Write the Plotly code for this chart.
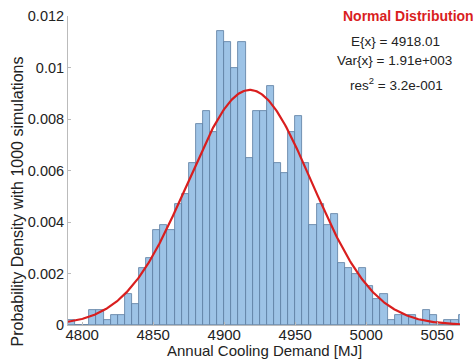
import numpy as np
import plotly.graph_objects as go

# Histogram bins (left edges, width 5 MJ) and probability densities
bin_start = 4790
bin_width = 5
density = [
    0.0002, 0.0, 0.0, 0.0006, 0.0006, 0.0002, 0.0004, 0.0004, 0.0012, 0.0008,
    0.0022, 0.0026, 0.0037, 0.0039, 0.0037, 0.0047, 0.0051, 0.0063, 0.0078, 0.0083,
    0.0075, 0.0114, 0.0110, 0.0100, 0.0110, 0.0065, 0.0083, 0.0083, 0.0093, 0.0063,
    0.0059, 0.0075, 0.0081, 0.0063, 0.0039, 0.0047, 0.0039, 0.0043, 0.0024, 0.0022,
    0.0020, 0.0022, 0.0015, 0.0010, 0.0012, 0.0002, 0.0004, 0.0004, 0.0004, 0.0002,
    0.0006, 0.0004, 0.0, 0.0002, 0.0002, 0.0004,
]
centers = [bin_start + bin_width * (i + 0.5) for i in range(len(density))]

# Fitted normal distribution parameters
mean_x = 4918.01
var_x = 1.91e3
x_range = [4790, 5066]

xs = np.linspace(x_range[0], x_range[1], 400)
sd = np.sqrt(var_x)
pdf = np.exp(-(xs - mean_x) ** 2 / (2 * var_x)) / (sd * np.sqrt(2 * np.pi))

x_ticks = [4800, 4850, 4900, 4950, 5000, 5050]
y_ticks = [0, 0.002, 0.004, 0.006, 0.008, 0.01, 0.012]
y_tick_labels = ["0", "0.002", "0.004", "0.006", "0.008", "0.01", "0.012"]

FONT = "Liberation Sans, Arial, sans-serif"
RED = "#D91E1E"

fig = go.Figure()
fig.add_trace(go.Bar(
    x=centers, y=density, width=bin_width,
    marker=dict(color="#9DC3E6", line=dict(color="#5A7CA0", width=0.8)),
    showlegend=False,
))
fig.add_trace(go.Scatter(
    x=xs, y=pdf, mode="lines",
    line=dict(color=RED, width=2.2),
    showlegend=False,
))

fig.update_layout(
    width=475, height=361,
    margin=dict(l=68, r=15, t=16, b=36),
    paper_bgcolor="white", plot_bgcolor="white",
    bargap=0,
    font=dict(family=FONT, size=14, color="#222222"),
    xaxis=dict(
        range=x_range, tickvals=x_ticks, ticktext=[str(v) for v in x_ticks],
        showgrid=False, zeroline=False, showline=True, linecolor="#BBBBBB",
        linewidth=1, ticks="inside", ticklen=3, tickcolor="#BBBBBB",
        tickfont=dict(size=15), ticklabelstandoff=-4, automargin=False,
    ),
    yaxis=dict(
        range=[0, 0.012], tickvals=y_ticks, ticktext=y_tick_labels,
        showgrid=False, zeroline=False, showline=True, linecolor="#BBBBBB",
        linewidth=1, ticks="inside", ticklen=3, tickcolor="#BBBBBB",
        tickfont=dict(size=14.5), automargin=False,
    ),
    annotations=[
        dict(text="Probability Density with 1000 simulations", xref="paper", yref="paper",
             x=-0.13, y=0.40, xanchor="center", yanchor="middle", textangle=-90,
             showarrow=False, font=dict(size=16)),
        dict(text="Annual Cooling Demand [MJ]", x=264, y=350, showarrow=False,
             font=dict(size=15)),
        dict(text="<b>Normal Distribution</b>", x=408, y=16, showarrow=False,
             font=dict(size=14, color=RED)),
        dict(text="E{x} = 4918.01", x=395, y=41, showarrow=False, font=dict(size=13.5)),
        dict(text="Var{x} = 1.91e+003", x=394, y=61, showarrow=False, font=dict(size=13.5)),
        dict(text="res<sup>2</sup> = 3.2e-001", x=396, y=84, showarrow=False, font=dict(size=13.5)),
    ],
)

# convert pixel positions of the text annotations to paper coordinates
plot_l, plot_t, plot_w, plot_h = 68, 16, 475 - 68 - 15, 361 - 16 - 36
for a in fig.layout.annotations[1:]:
    a.xref = "paper"
    a.yref = "paper"
    a.x = (a.x - plot_l) / plot_w
    a.y = 1 - (a.y - plot_t) / plot_h
    a.xanchor = "center"
    a.yanchor = "middle"

fig.write_html("out.html")
